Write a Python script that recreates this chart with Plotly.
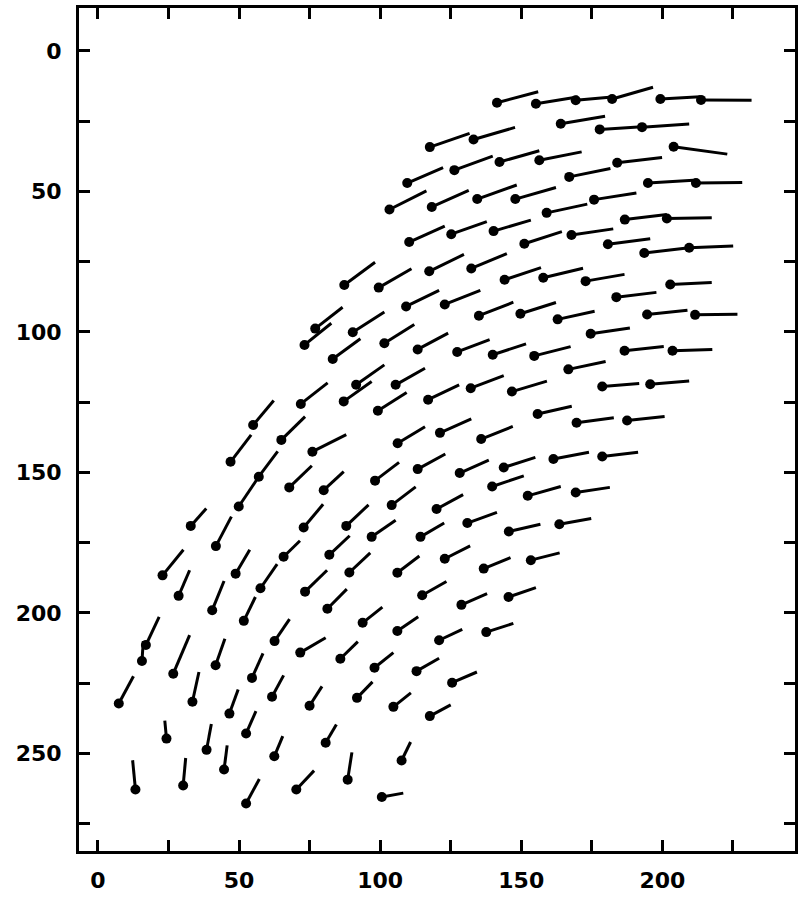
import plotly.graph_objects as go

# Dot positions (x0, y0) and tail end points (x1, y1) of each vector, in data units
x0 = [141.4, 155.2, 169.3, 182.2, 199.3, 213.7, 117.6, 133.1, 164.0, 177.8, 192.8, 204.0,
      109.6, 126.3, 142.3, 156.4, 167.0, 184.0, 194.9, 211.9, 103.3, 118.3, 134.4, 147.9,
      159.0, 175.8, 186.7, 201.6, 110.3, 125.2, 140.2, 151.1, 167.8, 180.7, 193.6, 209.5,
      87.3, 99.5, 117.4, 132.3, 144.1, 157.8, 172.8, 202.8, 183.7, 109.2, 122.9, 135.0,
      149.7, 162.9, 194.6, 211.6, 174.6, 186.6, 203.6, 166.7, 178.7, 195.7, 169.6, 187.5,
      161.4, 178.7, 169.3, 163.5, 77.0, 73.2, 90.3, 101.5, 113.3, 127.3, 139.9, 154.6,
      83.2, 91.5, 87.1, 105.5, 71.9, 99.2, 117.0, 132.1, 146.7, 155.8, 76.0, 106.2,
      121.2, 135.8, 55.0, 65.0, 47.0, 57.0, 67.8, 80.0, 98.2, 113.3, 128.2, 143.8,
      139.7, 152.3, 49.9, 104.1, 120.0, 72.9, 88.0, 130.9, 145.6, 32.9, 41.8, 97.0,
      114.3, 65.8, 82.0, 122.9, 89.1, 106.1, 136.7, 153.4, 22.9, 48.8, 28.6, 57.6,
      73.4, 81.3, 114.9, 128.8, 145.5, 40.5, 51.7, 93.8, 106.1, 120.9, 137.6, 17.0,
      15.6, 26.7, 41.7, 62.6, 71.7, 85.9, 98.0, 112.9, 125.5, 7.4, 33.5, 54.6,
      61.7, 75.0, 91.8, 104.7, 117.6, 46.6, 52.5, 24.3, 38.5, 44.7, 62.5, 80.7,
      13.3, 30.2, 52.5, 70.3, 107.6, 88.5, 100.6]
y0 = [18.4, 18.8, 17.5, 17.1, 17.1, 17.4, 34.2, 31.5, 25.9, 27.9, 27.1, 34.1,
      47.0, 42.4, 39.5, 38.9, 44.8, 39.8, 47.0, 47.0, 56.4, 55.5, 52.7, 52.7,
      57.6, 52.9, 60.0, 59.6, 68.0, 65.2, 64.1, 68.6, 65.5, 68.8, 71.9, 70.0,
      83.3, 84.2, 78.4, 77.4, 81.4, 80.7, 81.9, 83.1, 87.6, 90.9, 90.2, 94.2,
      93.5, 95.5, 93.8, 93.9, 100.6, 106.7, 106.7, 113.3, 119.4, 118.6, 132.3, 131.5,
      145.2, 144.3, 157.1, 168.4, 98.8, 104.6, 100.1, 104.0, 106.2, 107.1, 108.1, 108.5,
      109.6, 118.8, 124.7, 118.8, 125.6, 128.0, 124.1, 120.0, 121.2, 129.2, 142.6, 139.6,
      135.9, 138.1, 133.1, 138.4, 146.2, 151.5, 155.3, 156.3, 152.9, 148.8, 150.2, 148.2,
      155.0, 158.3, 162.1, 161.6, 163.0, 169.6, 169.0, 168.0, 171.0, 169.0, 176.2, 172.9,
      172.9, 180.0, 179.3, 180.7, 185.6, 185.7, 184.2, 181.2, 186.6, 186.0, 193.9, 191.2,
      192.4, 198.5, 193.7, 197.1, 194.3, 199.0, 202.8, 203.5, 206.4, 209.7, 206.8, 211.4,
      217.1, 221.6, 218.6, 210.0, 214.1, 216.3, 219.5, 220.7, 224.8, 232.2, 231.6, 223.1,
      229.8, 233.0, 230.2, 233.4, 236.7, 235.8, 242.9, 244.7, 248.7, 255.7, 251.0, 246.2,
      262.8, 261.4, 267.8, 262.8, 252.5, 259.3, 265.5]
x1 = [156.0, 169.9, 182.2, 196.7, 213.4, 231.6, 131.7, 147.8, 179.7, 192.8, 209.5, 223.0,
      122.3, 139.9, 156.4, 171.4, 181.6, 199.9, 211.0, 228.3, 116.4, 131.4, 148.4, 162.3,
      173.4, 190.8, 201.6, 217.5, 122.9, 137.8, 153.4, 164.4, 182.6, 195.7, 209.5, 225.1,
      98.2, 111.1, 129.7, 144.9, 157.0, 171.9, 186.6, 217.5, 197.9, 120.9, 135.5, 147.2,
      162.3, 176.0, 208.9, 226.6, 188.5, 200.5, 217.7, 179.9, 191.8, 209.5, 182.8, 200.8,
      174.0, 191.4, 181.4, 174.8, 86.7, 82.7, 101.5, 112.1, 124.1, 138.8, 151.7, 167.5,
      93.0, 101.5, 97.0, 115.9, 81.4, 109.4, 128.0, 143.8, 159.1, 167.9, 88.0, 115.9,
      132.3, 147.0, 62.3, 73.4, 54.3, 63.7, 75.8, 87.1, 106.7, 123.1, 138.5, 155.0,
      150.9, 164.0, 57.0, 112.6, 129.4, 79.8, 95.9, 141.4, 156.8, 38.4, 47.3, 105.5,
      122.7, 71.6, 89.2, 131.9, 96.5, 113.9, 146.2, 163.6, 30.3, 53.8, 32.5, 63.5,
      81.2, 88.2, 123.5, 137.9, 155.2, 44.7, 55.8, 100.8, 113.5, 129.1, 147.2, 21.7,
      16.1, 32.5, 45.0, 67.9, 80.7, 92.1, 104.7, 120.9, 134.3, 12.6, 35.8, 58.5,
      65.8, 79.4, 97.3, 110.9, 125.0, 49.7, 56.0, 23.7, 40.2, 45.8, 65.5, 84.5,
      12.3, 31.1, 57.2, 76.6, 110.8, 90.0, 108.2]
y1 = [14.5, 16.4, 16.4, 12.9, 16.3, 17.5, 29.3, 27.2, 23.2, 27.0, 26.0, 36.7,
      41.5, 37.4, 35.5, 35.9, 41.8, 37.9, 46.0, 46.8, 49.8, 49.6, 47.7, 48.6,
      54.5, 50.5, 58.2, 59.3, 62.3, 60.7, 60.2, 64.3, 63.3, 66.8, 70.0, 69.4,
      75.2, 77.5, 72.4, 72.1, 77.1, 77.3, 79.5, 82.4, 85.9, 85.2, 85.2, 89.4,
      89.5, 92.6, 92.3, 93.7, 98.6, 105.2, 106.2, 110.5, 118.3, 117.4, 130.5, 130.1,
      142.8, 142.8, 155.3, 166.4, 91.2, 96.9, 92.9, 97.3, 100.4, 102.7, 104.2, 105.2,
      102.4, 111.7, 117.6, 112.9, 118.1, 121.5, 118.8, 115.5, 117.5, 126.4, 136.5, 133.7,
      130.9, 133.6, 124.4, 130.1, 136.6, 142.5, 147.6, 149.7, 146.4, 143.4, 145.6, 144.6,
      151.2, 155.0, 151.5, 155.1, 157.9, 161.3, 161.5, 164.2, 168.4, 162.8, 165.7, 167.0,
      168.0, 174.3, 172.5, 176.1, 178.6, 179.7, 180.3, 178.6, 177.5, 177.5, 184.8, 182.6,
      184.8, 191.5, 188.8, 193.1, 191.0, 188.6, 194.3, 197.9, 201.3, 205.8, 203.7, 201.4,
      210.0, 207.9, 209.2, 202.2, 208.8, 210.2, 214.1, 216.1, 221.0, 222.5, 221.0, 214.4,
      222.2, 226.1, 224.5, 228.4, 232.7, 227.2, 234.9, 238.3, 239.5, 247.1, 243.8, 239.7,
      252.4, 251.6, 259.1, 256.1, 245.9, 249.6, 264.1]

x_ticks = [0, 25, 50, 75, 100, 125, 150, 175, 200, 225]
x_labels = ["0", "", "50", "", "100", "", "150", "", "200", ""]
y_ticks = [0, 25, 50, 75, 100, 125, 150, 175, 200, 225, 250, 275]
y_labels = ["0", "", "50", "", "100", "", "150", "", "200", "", "250", ""]

seg_x, seg_y = [], []
for a, b, c, d in zip(x0, y0, x1, y1):
    seg_x += [a, c, None]
    seg_y += [b, d, None]

fig = go.Figure()
fig.add_trace(go.Scatter(x=seg_x, y=seg_y, mode="lines",
                         line=dict(color="black", width=3), hoverinfo="skip"))
fig.add_trace(go.Scatter(x=x0, y=y0, mode="markers",
                         marker=dict(color="black", size=10)))

tickfont = dict(family="DejaVu Sans", size=22, color="black", weight="bold")
common = dict(showgrid=False, zeroline=False, showline=True, linewidth=3,
              linecolor="black", mirror="ticks", ticks="inside", ticklen=11,
              tickwidth=2.5, tickcolor="black", tickfont=tickfont)

fig.update_xaxes(range=[-6.7, 247], tickvals=x_ticks, ticktext=x_labels,
                 ticklabelstandoff=8, **common)
fig.update_yaxes(range=[284.7, -15.3], tickvals=y_ticks, ticktext=y_labels,
                 ticklabelstandoff=10, **common)

fig.update_layout(width=799, height=900, showlegend=False,
                  paper_bgcolor="white", plot_bgcolor="white",
                  margin=dict(l=79, r=1, t=8, b=49))

# remove the default page margin so the figure fills the window exactly
fig.write_html("out.html",
               config={"displayModeBar": False},
               post_script="document.body.style.margin='0px';"
                           "document.body.style.overflow='hidden';")
